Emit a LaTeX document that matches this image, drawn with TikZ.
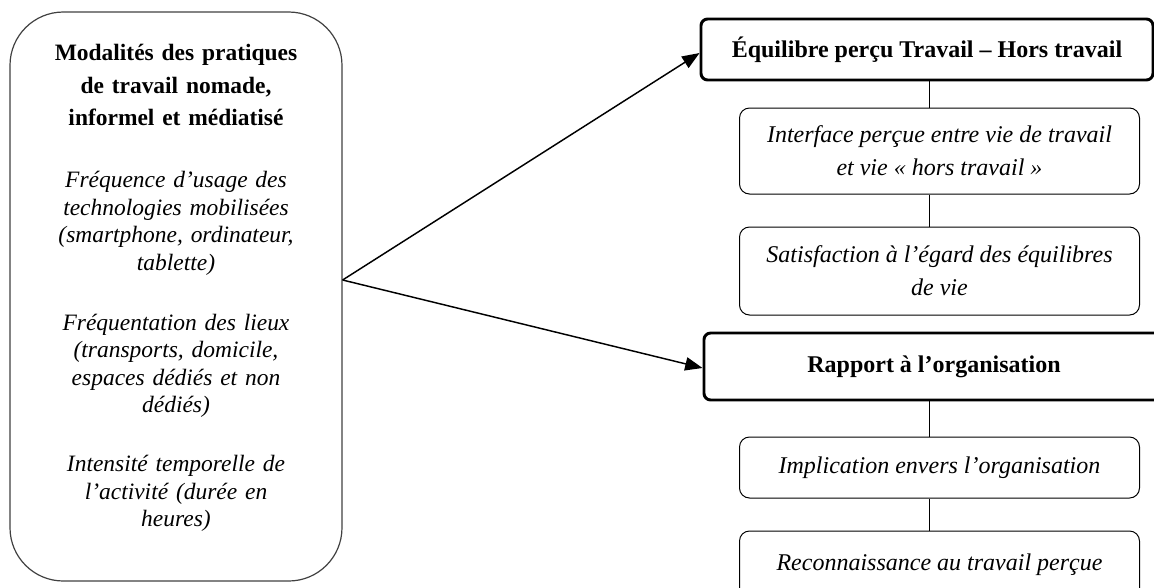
\documentclass[tikz,border=0pt]{standalone}
\usepackage{fontspec}
\setmainfont{Liberation Serif}
\usetikzlibrary{arrows.meta}
\tikzset{
  bigbox/.style={draw=black!75, line width=0.9pt, rounded corners=40pt, minimum width=249pt, minimum height=426.75pt, inner sep=0pt},
  hdrbox/.style={draw=black, line width=2.2pt, rounded corners=5pt, inner sep=0pt, font=\fontsize{18}{24.75}\selectfont\bfseries, align=center},
  itembox/.style={draw=black, line width=0.75pt, rounded corners=7.5pt, inner sep=0pt, minimum width=300pt, font=\fontsize{18}{24.75}\selectfont\itshape, align=center},
  link/.style={draw=black, line width=0.75pt},
  arr/.style={draw=black, line width=1.1pt, -{Triangle[length=13pt,width=10pt]}},
  txt/.style={align=center, inner sep=0pt, text width=240pt}
}
\begin{document}
\begin{tikzpicture}[x=0.75pt,y=-0.75pt]
\useasboundingbox (0,0) rectangle (1154,587);
% left box
\node[bigbox] (mod) at (176,296.5) {};
\node[txt, font=\fontsize{17.6}{20.6}\selectfont] (modtxt) at (176,288) {\bfseries Modalités des pratiques\\[3.8pt] de travail nomade,\\[3.8pt] informel et médiatisé\\[26pt]
\mdseries\itshape Fréquence d’usage des\\ technologies mobilisées\\ (smartphone, ordinateur,\\ tablette)\\[24.5pt]
Fréquentation des lieux\\ (transports, domicile,\\ espaces dédiés et non\\ dédiés)\\[23.5pt]
Intensité temporelle de\\ l’activité (durée en\\ heures)};
% right column
\node[hdrbox, minimum width=339pt, minimum height=45.75pt] (h1) at (927,49.5) {Équilibre perçu Travail – Hors travail};
\node[itembox, minimum height=64.5pt] (b1) at (939.5,151) {Interface perçue entre vie de travail\\ et vie « hors travail »};
\node[itembox, minimum height=66pt] (b2) at (939.5,271) {Satisfaction à l’égard des équilibres\\ de vie};
\node[hdrbox, minimum width=345pt, minimum height=50.25pt] (h2) at (934,366.5) {Rapport à l’organisation};
\node[itembox, minimum height=45.75pt] (b3) at (939.5,467.5) {Implication envers l’organisation};
\node[itembox, minimum height=51pt] (b4) at (939.5,565) {Reconnaissance au travail perçue};
% vertical links
\coordinate (vx) at (929,0);
\draw[link] (h1.south -| vx) -- (b1.north -| vx);
\draw[link] (b1.south -| vx) -- (b2.north -| vx);
\draw[link] (h2.south -| vx) -- (b3.north -| vx);
\draw[link] (b3.south -| vx) -- (b4.north -| vx);
% arrows
\coordinate (src) at (mod.east |- 0,280);
\draw[arr] (src) -- (h1.west |- 0,53);
\draw[arr] (src) -- (h2.west |- 0,368);
\end{tikzpicture}
\end{document}
